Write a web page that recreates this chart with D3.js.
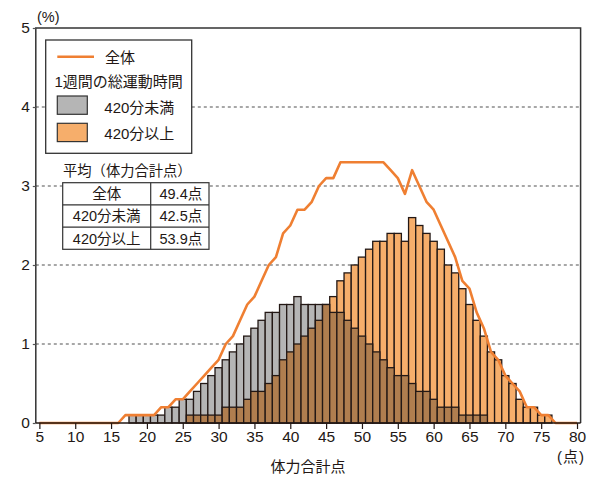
<!DOCTYPE html>
<html>
<head>
<meta charset="utf-8">
<script src="https://cdn.jsdelivr.net/npm/d3@7/dist/d3.min.js"></script>
<style>
  html, body { margin: 0; padding: 0; background: #fff; }
  svg { display: block; }
  text { font-family: "Liberation Sans", "Noto Sans CJK JP", sans-serif; fill: #231815; }
</style>
</head>
<body>
<svg id="chart" width="600" height="477"></svg>
<script>
// 体力合計点ごとの分布（%）
const scores = d3.range(5, 81);            // 5〜80点
const totalPct = [                          // 全体（折れ線）5〜80点
  0, 0, 0, 0, 0, 0, 0, 0, 0, 0, 0, 0,       // 5-16
  0.1, 0.1, 0.1, 0.1, 0.1,                  // 17-21
  0.2, 0.2, 0.3, 0.3,                       // 22-25
  0.4, 0.5, 0.6, 0.7, 0.8,                  // 26-30
  1.0, 1.1, 1.3, 1.5, 1.6,                  // 31-35
  1.8, 2.0, 2.1, 2.4, 2.5,                  // 36-40
  2.7, 2.7, 2.8, 3.0, 3.1,                  // 41-45
  3.1, 3.3, 3.3, 3.3, 3.3,                  // 46-50
  3.3, 3.3, 3.3, 3.2, 3.1,                  // 51-55
  2.9, 3.2, 3.0, 2.8, 2.7,                  // 56-60
  2.5, 2.3, 2.1, 1.8, 1.7,                  // 61-65
  1.4, 1.2, 0.9, 0.8, 0.6,                  // 66-70
  0.5, 0.4, 0.2, 0.2, 0.1,                  // 71-75
  0.1, 0, 0, 0, 0                           // 76-80
];

const underScores = d3.range(18, 68);       // 420分未満 18〜67点
const underPct = [
  0.1, 0.1, 0.1, 0.1, 0.1, 0.2, 0.2, 0.3,   // 18-25
  0.3, 0.4, 0.5, 0.6, 0.7,                  // 26-30
  0.8, 0.9, 1.0, 1.1, 1.2,                  // 31-35
  1.3, 1.4, 1.4, 1.5, 1.5,                  // 36-40
  1.6, 1.5, 1.5, 1.5, 1.5,                  // 41-45
  1.4, 1.4, 1.3, 1.2, 1.1,                  // 46-50
  1.0, 0.9, 0.8, 0.7, 0.6,                  // 51-55
  0.6, 0.5, 0.4, 0.4, 0.3,                  // 56-60
  0.2, 0.2, 0.2, 0.1, 0.1,                  // 61-65
  0.1, 0.1                                  // 66-67
];

const overScores = d3.range(26, 77);        // 420分以上 26〜76点
const overPct = [
  0.1, 0.1, 0.1, 0.1, 0.1,                  // 26-30
  0.2, 0.2, 0.2, 0.3, 0.4,                  // 31-35
  0.4, 0.5, 0.6, 0.8, 0.9,                  // 36-40
  1.0, 1.1, 1.2, 1.3, 1.5,                  // 41-45
  1.6, 1.8, 1.9, 2.0, 2.1,                  // 46-50
  2.2, 2.3, 2.3, 2.4, 2.4,                  // 51-55
  2.3, 2.6, 2.5, 2.4, 2.3,                  // 56-60
  2.2, 2.0, 1.9, 1.7, 1.5,                  // 61-65
  1.3, 1.1, 0.9, 0.8, 0.6,                  // 66-70
  0.5, 0.3, 0.2, 0.2, 0.1,                  // 71-75
  0.1                                       // 76
];

const xTicks = d3.range(5, 81, 5);
const yTicks = [0, 1, 2, 3, 4, 5];

const legendLabels = ["全体", "1週間の総運動時間", "420分未満", "420分以上"];
const meanTitle = "平均（体力合計点）";
const meanRows = [["全体", "49.4点"], ["420分未満", "42.5点"], ["420分以上", "53.9点"]];

// colours
const cGray = "#b5b5b5", cOrange = "#f6ae6b", cBrown = "#b07e4f";
const cLine = "#ef7f32", cInk = "#231815";

const svg = d3.select("#chart");
const plotL = 35.8, plotR = 580.6, plotT = 28, plotB = 423;
const x = d3.scaleLinear().domain([4.5, 80.5]).range([plotL, plotR]);
const y = d3.scaleLinear().domain([0, 5]).range([plotB, plotT]);

// dotted grid
svg.append("g").selectAll("line").data(yTicks.filter(v => v > 0 && v < 5)).join("line")
  .attr("x1", plotL).attr("x2", plotR)
  .attr("y1", d => y(d)).attr("y2", d => y(d))
  .attr("stroke", "#8a8a8a").attr("stroke-width", 1.5).attr("stroke-dasharray", "3,3");

// bars: the taller group drawn in its own colour, the overlap in brown
const byScore = new Map();
underScores.forEach((s, i) => { byScore.set(s, { s, u: underPct[i], o: 0 }); });
overScores.forEach((s, i) => {
  const r = byScore.get(s) || { s, u: 0, o: 0 };
  r.o = overPct[i]; byScore.set(s, r);
});
const rows = Array.from(byScore.values()).sort((a, b) => a.s - b.s);
const bw = x(1) - x(0);

const barG = svg.append("g").attr("stroke", cInk).attr("stroke-width", 1.3);
barG.selectAll("rect.hi").data(rows).join("rect").attr("class", "hi")
  .attr("x", d => x(d.s - 0.5)).attr("width", bw)
  .attr("y", d => y(Math.max(d.u, d.o)))
  .attr("height", d => y(0) - y(Math.max(d.u, d.o)))
  .attr("fill", d => d.u > d.o ? cGray : d.o > d.u ? cOrange : cBrown);
barG.selectAll("rect.lo").data(rows.filter(d => Math.min(d.u, d.o) > 0)).join("rect").attr("class", "lo")
  .attr("x", d => x(d.s - 0.5)).attr("width", bw)
  .attr("y", d => y(Math.min(d.u, d.o)))
  .attr("height", d => y(0) - y(Math.min(d.u, d.o)))
  .attr("fill", cBrown);

// total line
svg.append("path")
  .datum(scores.map((s, i) => [s, totalPct[i]]))
  .attr("fill", "none").attr("stroke", cLine).attr("stroke-width", 2.6)
  .attr("stroke-linejoin", "round")
  .attr("d", d3.line().x(d => x(d[0])).y(d => y(d[1])));

// frame
svg.append("path")
  .attr("d", `M${plotL},${plotB}V${plotT}H${plotR}V${plotB}`)
  .attr("fill", "none").attr("stroke", "#333").attr("stroke-width", 1.5);

// axes
const xAxis = svg.append("g").attr("transform", `translate(0,${plotB})`)
  .call(d3.axisBottom(x).tickValues(xTicks).tickSize(6).tickPadding(4).tickSizeOuter(0));
xAxis.select(".domain").attr("d", `M${plotL},0H${plotR}`).attr("stroke", cInk).attr("stroke-width", 1.6);
xAxis.selectAll(".tick line").attr("stroke", cInk).attr("stroke-width", 1.2);
xAxis.selectAll(".tick text").attr("font-size", 15.5).attr("fill", cInk)
  .attr("dy", "0.71em").attr("y", 8);

const yAxis = svg.append("g").attr("transform", `translate(${plotL},0)`)
  .call(d3.axisLeft(y).tickValues(yTicks).tickFormat(d3.format("d")).tickSize(3).tickPadding(3).tickSizeOuter(0));
yAxis.select(".domain").remove();
yAxis.selectAll(".tick line").attr("stroke", "#555").attr("stroke-width", 1.2);
yAxis.selectAll(".tick text").attr("font-size", 15.5).attr("fill", cInk);

// unit labels and axis title
svg.append("text").attr("x", 37).attr("y", 22).attr("font-size", 14.5).text("(%)");
svg.append("text").attr("x", 571).attr("y", 462).attr("text-anchor", "middle")
  .attr("font-size", 15).attr("letter-spacing", 1).text("(点)");
svg.append("text").attr("x", 308).attr("y", 472).attr("text-anchor", "middle")
  .attr("font-size", 15).text("体力合計点");

// legend
const lg = svg.append("g");
lg.append("rect").attr("x", 45.7).attr("y", 40).attr("width", 146).attr("height", 113.3)
  .attr("fill", "#fff").attr("stroke", "#333").attr("stroke-width", 1.3);
lg.append("line").attr("x1", 57.3).attr("x2", 94).attr("y1", 56.7).attr("y2", 56.7)
  .attr("stroke", cLine).attr("stroke-width", 2.6);
lg.append("text").attr("x", 105).attr("y", 62.5).attr("font-size", 15).text(legendLabels[0]);
lg.append("text").attr("x", 54.5).attr("y", 86.5).attr("font-size", 15).text(legendLabels[1]);
lg.append("rect").attr("x", 57.3).attr("y", 96).attr("width", 30).attr("height", 18.3)
  .attr("fill", cGray).attr("stroke", "#333").attr("stroke-width", 1.2);
lg.append("text").attr("x", 104.3).attr("y", 112.8).attr("font-size", 15).text(legendLabels[2]);
lg.append("rect").attr("x", 57.3).attr("y", 123.3).attr("width", 30).attr("height", 18.3)
  .attr("fill", cOrange).attr("stroke", "#333").attr("stroke-width", 1.2);
lg.append("text").attr("x", 104.3).attr("y", 138.8).attr("font-size", 15).text(legendLabels[3]);

// mean score table
svg.append("text").attr("x", 63).attr("y", 175.5).attr("font-size", 14.3).text(meanTitle);
const tb = svg.append("g");
const tX0 = 62.7, tX1 = 150.7, tX2 = 209, tY0 = 182.7, rowH = 22.2;
tb.append("rect").attr("x", tX0).attr("y", tY0).attr("width", tX2 - tX0).attr("height", rowH * 3)
  .attr("fill", "#fff").attr("stroke", "#333").attr("stroke-width", 1.2);
tb.append("line").attr("x1", tX1).attr("x2", tX1).attr("y1", tY0).attr("y2", tY0 + rowH * 3)
  .attr("stroke", "#333").attr("stroke-width", 1.2);
[1, 2].forEach(k => tb.append("line").attr("x1", tX0).attr("x2", tX2)
  .attr("y1", tY0 + rowH * k).attr("y2", tY0 + rowH * k).attr("stroke", "#333").attr("stroke-width", 1.2));
meanRows.forEach((r, i) => {
  const cy = tY0 + rowH * (i + 0.5) + 5.3;
  tb.append("text").attr("x", (tX0 + tX1) / 2).attr("y", cy).attr("text-anchor", "middle")
    .attr("font-size", 14.5).text(r[0]);
  tb.append("text").attr("x", (tX1 + tX2) / 2 + 1).attr("y", cy).attr("text-anchor", "middle")
    .attr("font-size", 14.5).text(r[1]);
});
</script>
</body>
</html>
